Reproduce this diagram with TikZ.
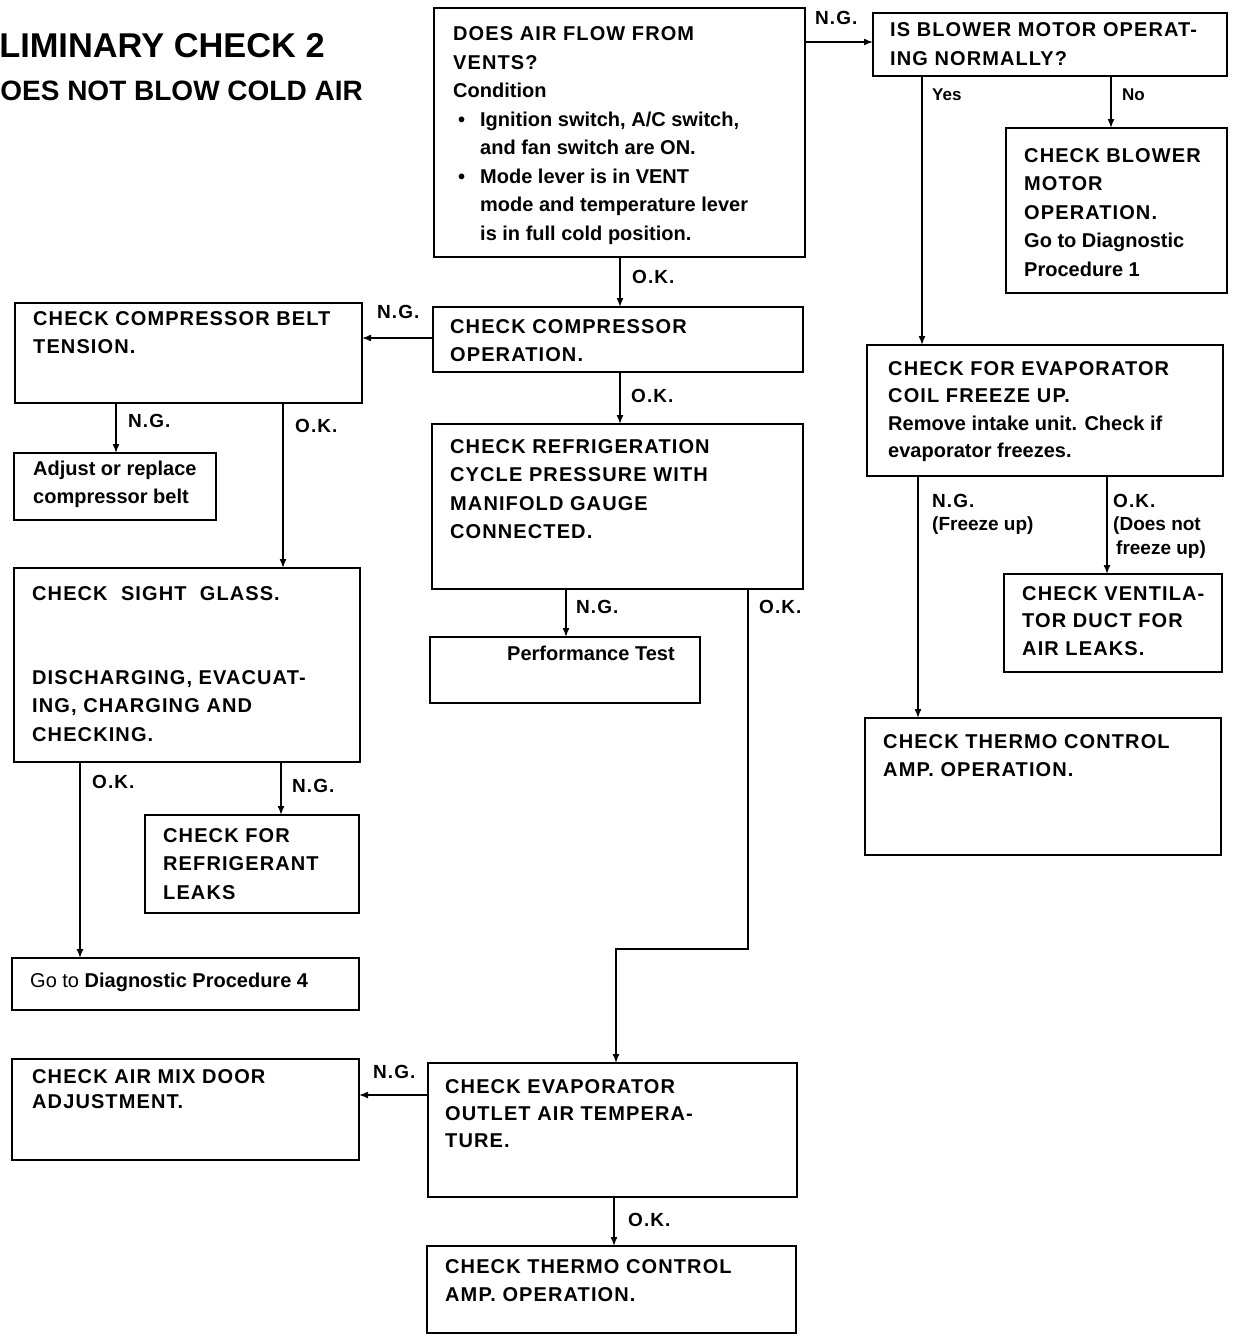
\documentclass[tikz,border=0pt]{standalone}
\usepackage{fontspec}
\setmainfont{Liberation Sans}
\newfontfamily\capsfont{Liberation Sans}[LetterSpace=5.5]
\usetikzlibrary{arrows.meta,calc}
\newcommand\ml[1]{\begin{tabular}[t]{@{}l@{}}#1\end{tabular}}
\newcommand\lc{\rmfamily}
\newcommand\bx[5]{\node[box, minimum width={(#4-#2)*1pt}, minimum height={(#5-#3)*1pt}] (#1) at (#2,#3) {};}
\tikzset{
  box/.style={draw, line width=1.8pt, inner sep=0pt, outer sep=0pt, anchor=north west},
  txt/.style={anchor=base west, inner sep=0pt, align=left, font=\capsfont\bfseries\fontsize{20}{28.5}\selectfont},
  lbl/.style={anchor=base west, inner sep=0pt, font=\capsfont\bfseries\fontsize{19}{23.5}\selectfont},
  small/.style={anchor=base west, inner sep=0pt, font=\rmfamily\bfseries\fontsize{17}{20}\selectfont},
  arr/.style={line width=1.5pt, -{Latex[length=9pt,width=7pt]}},
}
\begin{document}
\begin{tikzpicture}[x=1pt,y=-1pt]
\useasboundingbox (0,0) rectangle (1237,1338);
% title
\node[anchor=base east, inner sep=0pt, font=\bfseries\fontsize{34.4}{40}\selectfont] (title1) at (325,57) {LIMINARY CHECK 2};
\node[anchor=base east, inner sep=0pt, font=\bfseries\fontsize{28}{34}\selectfont] (title2) at (363,100) {OES NOT BLOW COLD AIR};
% boxes
\bx{q1}{434}{8}{805}{257}
\bx{blower}{873}{13}{1227}{76}
\bx{chkblower}{1006}{128}{1227}{293}
\bx{comp}{433}{307}{803}{372}
\bx{belt}{15}{303}{362}{403}
\bx{adjust}{14}{453}{216}{520}
\bx{refrig}{432}{424}{803}{589}
\bx{perf}{430}{637}{700}{703}
\bx{sight}{14}{568}{360}{762}
\bx{leaks}{145}{815}{359}{913}
\bx{goto}{12}{958}{359}{1010}
\bx{airmix}{12}{1059}{359}{1160}
\bx{evapout}{428}{1063}{797}{1197}
\bx{thermoB}{427}{1246}{796}{1333}
\bx{coil}{867}{345}{1223}{476}
\bx{vent}{1004}{574}{1222}{672}
\bx{thermoR}{865}{718}{1221}{855}
% box texts
\node[txt] (tq1) at (453,41) {\ml{DOES AIR FLOW FROM\\VENTS?\\\lc Condition\\
\lc\hspace*{5pt}\makebox[22pt][l]{\textbullet}Ignition switch, A/C switch,\\
\lc\hspace*{27pt}and fan switch are ON.\\
\lc\hspace*{5pt}\makebox[22pt][l]{\textbullet}Mode lever is in VENT\\
\lc\hspace*{27pt}mode and temperature lever\\
\lc\hspace*{27pt}is in full cold position.}};
\node[txt] (tblower) at (890,37) {\ml{IS BLOWER MOTOR OPERAT-\\ING NORMALLY?}};
\node[txt] (tchkblower) at (1024,162) {\ml{CHECK BLOWER\\MOTOR\\OPERATION.\\\lc Go to Diagnostic\\\lc Procedure 1}};
\node[txt] (tcomp) at (450,333) {\ml{CHECK COMPRESSOR\\OPERATION.}};
\node[txt] (trefrig) at (450,453) {\ml{CHECK REFRIGERATION\\CYCLE PRESSURE WITH\\MANIFOLD GAUGE\\CONNECTED.}};
\node[txt] (tperf) at (507,660) {\lc Performance Test};
\node[txt] (tbelt) at (33,325) {\ml{CHECK COMPRESSOR BELT\\TENSION.}};
\node[txt] (tadjust) at (33,475) {\ml{\lc Adjust or replace\\\lc compressor belt}};
\node[txt] (tsight) at (32,600) {CHECK\ \ SIGHT\ \ GLASS.};
\node[txt] (tsight2) at (32,684) {\ml{DISCHARGING, EVACUAT-\\ING, CHARGING AND\\CHECKING.}};
\node[txt] (tleaks) at (163,842) {\ml{CHECK FOR\\REFRIGERANT\\LEAKS}};
\node[txt] (tgoto) at (30,987) {\lc{\mdseries Go to }Diagnostic Procedure 4};
\node[txt] (tairmix) at (32,1083) {\ml{CHECK AIR MIX DOOR\\[-3pt]ADJUSTMENT.}};
\node[txt] (tevapout) at (445,1093) {\ml{CHECK EVAPORATOR\\[-1.5pt]OUTLET AIR TEMPERA-\\[-1.5pt]TURE.}};
\node[txt] (tthermoB) at (445,1273) {\ml{CHECK THERMO CONTROL\\AMP. OPERATION.}};
\node[txt] (tcoil) at (888,375) {\ml{CHECK FOR EVAPORATOR\\[-1pt]COIL FREEZE UP.\\[-1pt]\lc Remove intake unit. Check if\\[-1pt]\lc evaporator freezes.}};
\node[txt] (tvent) at (1022,600) {\ml{CHECK VENTILA-\\[-1pt]TOR DUCT FOR\\[-1pt]AIR LEAKS.}};
\node[txt] (tthermoR) at (883,748) {\ml{CHECK THERMO CONTROL\\AMP. OPERATION.}};
% connectors
\draw[arr] (q1.east |- 0,42) -- (blower.west |- 0,42);
\draw[arr] (q1.south -| 620,0) -- (comp.north -| 620,0);
\draw[arr] (blower.south -| 922,0) -- (coil.north -| 922,0);
\draw[arr] (blower.south -| 1111,0) -- (chkblower.north -| 1111,0);
\draw[arr] (comp.west |- 0,338) -- (belt.east |- 0,338);
\draw[arr] (comp.south -| 620,0) -- (refrig.north -| 620,0);
\draw[arr] (belt.south -| 116,0) -- (adjust.north -| 116,0);
\draw[arr] (belt.south -| 283,0) -- (sight.north -| 283,0);
\draw[arr] (refrig.south -| 566,0) -- (perf.north -| 566,0);
\coordinate (bend) at (616,949);
\draw[arr] (refrig.south -| 748,0) |- (bend) -- (evapout.north -| bend);
\draw[arr] (sight.south -| 80,0) -- (goto.north -| 80,0);
\draw[arr] (sight.south -| 281,0) -- (leaks.north -| 281,0);
\draw[arr] (evapout.west |- 0,1095) -- (airmix.east |- 0,1095);
\draw[arr] (evapout.south -| 614,0) -- (thermoB.north -| 614,0);
\draw[arr] (coil.south -| 918,0) -- (thermoR.north -| 918,0);
\draw[arr] (coil.south -| 1107,0) -- (vent.north -| 1107,0);
% labels
\node[lbl] (l1) at (815,25) {N.G.};
\node[lbl] (l2) at (632,283) {O.K.};
\node[small] (l3) at (932,100) {Yes};
\node[small] (l4) at (1122,100) {No};
\node[lbl] (l5) at (377,318) {N.G.};
\node[lbl] (l6) at (631,402) {O.K.};
\node[lbl] (l7) at (128,427) {N.G.};
\node[lbl] (l8) at (295,432) {O.K.};
\node[lbl] (l9) at (576,613) {N.G.};
\node[lbl] (l10) at (759,613) {O.K.};
\node[lbl] (l11) at (92,788) {O.K.};
\node[lbl] (l12) at (292,792) {N.G.};
\node[lbl] (l13) at (373,1078) {N.G.};
\node[lbl] (l14) at (628,1226) {O.K.};
\node[lbl, align=left] (l15) at (932,507) {\ml{N.G.\\\lc (Freeze up)}};
\node[lbl, align=left] (l16) at (1113,507) {\ml{O.K.\\\lc (Does not\\\lc\hspace*{3pt}freeze up)}};
\end{tikzpicture}
\end{document}
